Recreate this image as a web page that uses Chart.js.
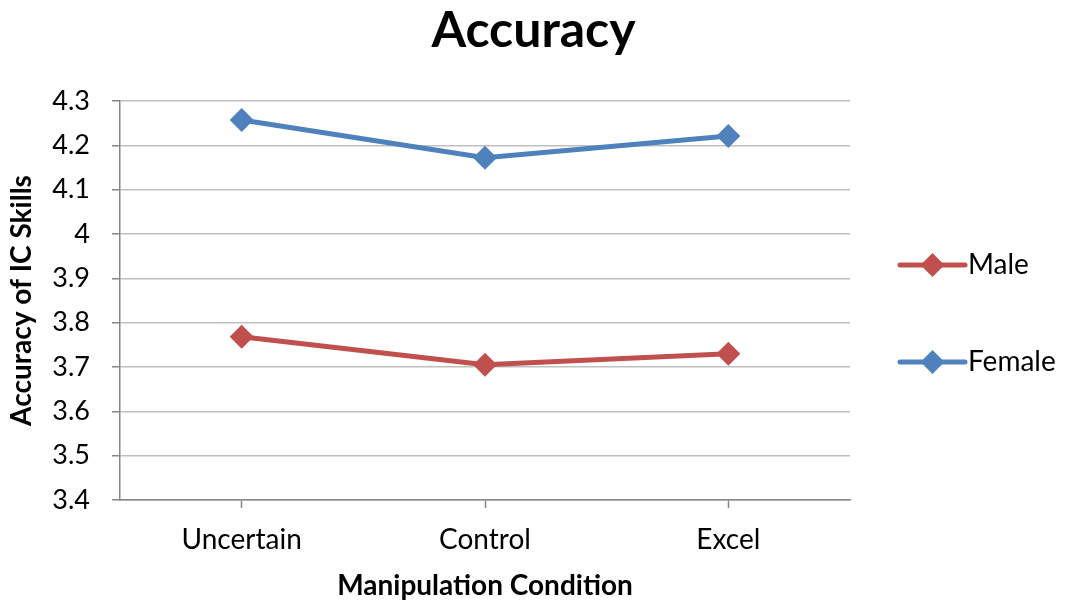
<!DOCTYPE html>
<html>
<head>
<meta charset="utf-8">
<script src="https://cdn.jsdelivr.net/npm/chart.js@4"></script>
<style>
  html, body { margin: 0; padding: 0; background: #fff; }
  #wrap { width: 1067px; height: 603px; }
</style>
</head>
<body>
<div id="wrap"><canvas id="myChart"></canvas></div>
<script>
const categories = ['Uncertain', 'Control', 'Excel'];
const maleValues = [3.768, 3.705, 3.730];
const femaleValues = [4.257, 4.172, 4.221];
const seriesNames = ['Male', 'Female'];
const yTicks = { min: 3.4, max: 4.3, step: 0.1 };

const FONT = 'Lato, "Open Sans", "Liberation Sans", sans-serif';
const RED = '#C0504D';
const BLUE = '#4F81BD';
const MARK = 12;

// legend drawn by hand: line + diamond like the original
const sideLegend = {
    id: 'sideLegend',
    afterDraw(chart) {
        const ctx = chart.ctx;
        const area = chart.chartArea;
        const midY = (area.top + area.bottom) / 2 + 13;
        const gap = 97;
        chart.data.datasets.forEach((ds, i) => {
            const y = midY + (i - 0.5) * gap;
            const x1 = area.right + 50;
            const x2 = area.right + 115;
            ctx.save();
            ctx.strokeStyle = ds.borderColor;
            ctx.lineWidth = 5;
            ctx.lineCap = 'round';
            ctx.beginPath();
            ctx.moveTo(x1, y);
            ctx.lineTo(x2, y);
            ctx.stroke();
            ctx.fillStyle = ds.pointBackgroundColor;
            Chart.helpers.drawPoint(ctx, { pointStyle: 'rectRot', radius: MARK, borderWidth: 0 }, (x1 + x2) / 2, y);
            ctx.fillStyle = '#000';
            ctx.font = '28px ' + FONT;
            ctx.textBaseline = 'middle';
            ctx.textAlign = 'left';
            ctx.fillText(ds.label, x2 + 3, y);
            ctx.restore();
        });
    }
};

const ctx = document.getElementById('myChart').getContext('2d');
const chart = new Chart(ctx, {
    type: 'line',
    data: {
        labels: categories,
        datasets: [{
            label: seriesNames[0],
            data: maleValues,
            borderColor: RED,
            backgroundColor: RED,
            pointBackgroundColor: RED,
            pointBorderColor: RED,
            borderWidth: 5,
            pointStyle: 'rectRot',
            pointRadius: MARK,
            pointBorderWidth: 0,
            tension: 0
        }, {
            label: seriesNames[1],
            data: femaleValues,
            borderColor: BLUE,
            backgroundColor: BLUE,
            pointBackgroundColor: BLUE,
            pointBorderColor: BLUE,
            borderWidth: 5,
            pointStyle: 'rectRot',
            pointRadius: MARK,
            pointBorderWidth: 0,
            tension: 0
        }]
    },
    options: {
        responsive: true,
        maintainAspectRatio: false,
        animation: false,
        layout: { padding: 0 },
        plugins: {
            legend: { display: false },
            tooltip: { enabled: false },
            title: {
                display: true,
                text: 'Accuracy',
                color: '#000',
                font: { family: FONT, size: 50, weight: 'bold' },
                padding: { top: 1, bottom: 40 }
            }
        },
        scales: {
            x: {
                offset: true,
                grid: {
                    drawOnChartArea: false,
                    drawTicks: true,
                    tickLength: 8,
                    offset: false,
                    tickColor: '#868686',
                    tickWidth: 1.5
                },
                border: { color: '#868686', width: 1.5 },
                ticks: { color: '#000', font: { family: FONT, size: 28 }, padding: 15 },
                title: {
                    display: true,
                    text: 'Manipulation Condition',
                    color: '#000',
                    font: { family: FONT, size: 28, weight: 'bold' },
                    padding: { top: 0, bottom: 0 }
                },
                afterFit(scale) { scale.height = 103; }
            },
            y: {
                min: yTicks.min,
                max: yTicks.max,
                grid: {
                    color: '#BFBFBF',
                    lineWidth: 1.5,
                    tickLength: 8,
                    tickColor: '#868686',
                    tickWidth: 1.5
                },
                border: { color: '#868686', width: 1.5 },
                ticks: {
                    stepSize: yTicks.step,
                    color: '#000',
                    padding: 22,
                    font: { family: FONT, size: 27 },
                    callback: v => String(+v.toFixed(1))
                },
                title: {
                    display: true,
                    text: 'Accuracy of IC Skills',
                    color: '#000',
                    font: { family: FONT, size: 28, weight: 'bold' },
                    padding: { top: 5, bottom: 0 }
                },
                afterFit(scale) { scale.width = 120; }
            },
            // empty right-hand box that reserves room for the legend
            side: {
                position: 'right',
                display: true,
                grid: { display: false },
                border: { display: false },
                ticks: { display: false },
                afterFit(scale) { scale.width = 217; }
            }
        }
    },
    plugins: [sideLegend]
});
</script>
</body>
</html>
